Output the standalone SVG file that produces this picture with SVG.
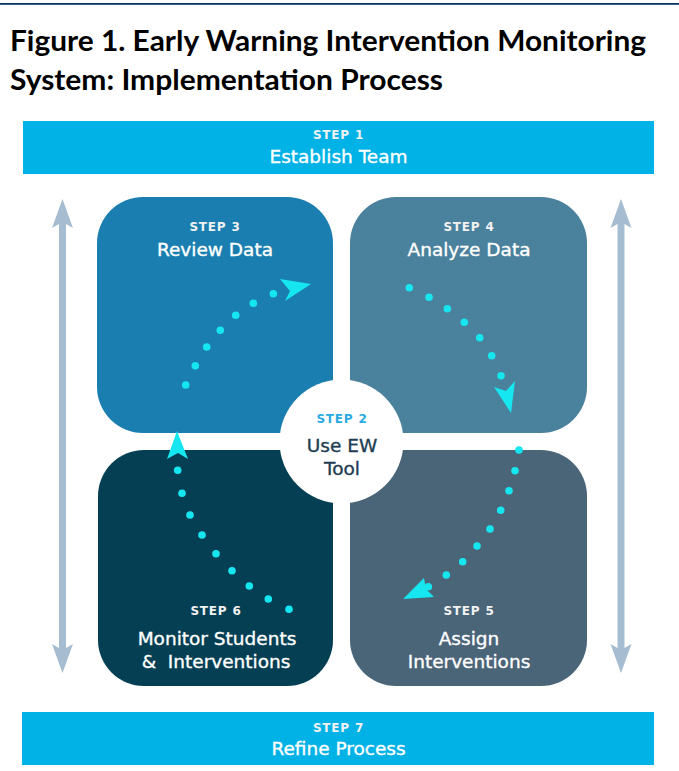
<svg xmlns="http://www.w3.org/2000/svg" width="679" height="771" viewBox="0 0 679 771">
<defs>
<style>
.title{font-family:Lato,"Liberation Sans",sans-serif;font-weight:bold;font-size:28px;fill:#000}
.step{font-family:"DejaVu Sans","Liberation Sans",sans-serif;font-weight:bold;font-size:12px;letter-spacing:0.8px;fill:#F2F2F2;text-anchor:middle}
.lbl{font-family:"DejaVu Sans","Liberation Sans",sans-serif;font-size:18.5px;fill:#FFFFFF;stroke:#FFFFFF;stroke-width:0.35px;text-anchor:middle}
.dark{fill:#1E3D52;stroke:#1E3D52}
.banner{fill:#00B2E5}
.dot{fill:#16E6F0}
.head{fill:#16E6F0}
.vline{stroke:#A6BDD1;stroke-width:7;fill:none}
.vhead{fill:#A6BDD1}
</style>
</defs>
<rect x="0" y="3" width="679" height="1.8" fill="#0B3462"/>
<text class="title" x="10" y="51" textLength="636" lengthAdjust="spacingAndGlyphs">Figure 1. Early Warning Intervention Monitoring</text>
<text class="title" x="10" y="90" textLength="433" lengthAdjust="spacingAndGlyphs">System: Implementation Process</text>

<g id="step1">
<rect class="banner" x="23" y="121" width="631" height="53"/>
<text class="step" x="338.5" y="139">STEP 1</text>
<text class="lbl" x="338.5" y="163">Establish Team</text>
</g>

<g id="step3">
<rect x="97" y="197" width="236" height="236" rx="46" fill="#1A7FB0"/>
<text class="step" x="215" y="231">STEP 3</text>
<text class="lbl" x="215" y="256">Review Data</text>
</g>

<g id="step4">
<rect x="350" y="197" width="237" height="236" rx="46" fill="#4A819C"/>
<text class="step" x="469" y="231">STEP 4</text>
<text class="lbl" x="469" y="256">Analyze Data</text>
</g>

<g id="step6">
<rect x="98" y="450" width="235" height="236" rx="46" fill="#043F53"/>
<text class="step" x="216" y="615">STEP 6</text>
<text class="lbl" x="217" y="645">Monitor Students</text>
<text class="lbl" x="216" y="668" style="white-space:pre">&amp;  Interventions</text>
</g>

<g id="step5">
<rect x="350" y="450" width="237" height="236" rx="46" fill="#4A6478"/>
<text class="step" x="469" y="615">STEP 5</text>
<text class="lbl" x="469" y="645">Assign</text>
<text class="lbl" x="469" y="668">Interventions</text>
</g>

<g id="step2">
<circle cx="341.5" cy="441.5" r="62" fill="#FFFFFF"/>
<text class="step" x="342" y="423" style="fill:#29ABE2">STEP 2</text>
<text class="lbl dark" x="342" y="452">Use EW</text>
<text class="lbl dark" x="342" y="475">Tool</text>
</g>

<g id="step7">
<rect class="banner" x="22" y="712" width="632" height="53"/>
<text class="step" x="338.5" y="732">STEP 7</text>
<text class="lbl" x="338.5" y="755">Refine Process</text>
</g>

<g id="connectors">
<g id="loop-3-4">
<circle class="dot" cx="185.7" cy="385" r="3.8"/>
<circle class="dot" cx="195.3" cy="365.7" r="3.8"/>
<circle class="dot" cx="206.7" cy="347" r="3.8"/>
<circle class="dot" cx="220.3" cy="330.3" r="3.8"/>
<circle class="dot" cx="235.7" cy="315.3" r="3.8"/>
<circle class="dot" cx="253.3" cy="303.3" r="3.8"/>
<circle class="dot" cx="273.3" cy="293.7" r="3.8"/>
<polygon class="head" points="311,284 280,279 290,291 285,301"/>
</g>
<g id="loop-4-5">
<circle class="dot" cx="409.3" cy="287.7" r="3.8"/>
<circle class="dot" cx="429" cy="297.3" r="3.8"/>
<circle class="dot" cx="447.3" cy="308.7" r="3.8"/>
<circle class="dot" cx="464.3" cy="322.3" r="3.8"/>
<circle class="dot" cx="479.7" cy="337.7" r="3.8"/>
<circle class="dot" cx="491.7" cy="355.7" r="3.8"/>
<circle class="dot" cx="501" cy="375.7" r="3.8"/>
<polygon class="head" points="511,413 494,387 506,391 515,381"/>
</g>
<g id="loop-5-6">
<circle class="dot" cx="519" cy="450" r="3.8"/>
<circle class="dot" cx="515" cy="470.7" r="3.8"/>
<circle class="dot" cx="509" cy="490.7" r="3.8"/>
<circle class="dot" cx="500.7" cy="510.3" r="3.8"/>
<circle class="dot" cx="490" cy="529" r="3.8"/>
<circle class="dot" cx="477" cy="546" r="3.8"/>
<circle class="dot" cx="462.7" cy="561.7" r="3.8"/>
<circle class="dot" cx="446.3" cy="575" r="3.8"/>
<circle class="dot" cx="428.3" cy="586.7" r="3.8"/>
<polygon class="head" points="403,599 424,578 426,589 434,597"/>
</g>
<g id="loop-6-3">
<circle class="dot" cx="289" cy="609.3" r="3.8"/>
<circle class="dot" cx="268.3" cy="599" r="3.8"/>
<circle class="dot" cx="249.3" cy="586" r="3.8"/>
<circle class="dot" cx="232" cy="570.7" r="3.8"/>
<circle class="dot" cx="216" cy="553.7" r="3.8"/>
<circle class="dot" cx="202" cy="535" r="3.8"/>
<circle class="dot" cx="190" cy="515" r="3.8"/>
<circle class="dot" cx="182" cy="493.3" r="3.8"/>
<circle class="dot" cx="177.7" cy="470.3" r="3.8"/>
<polygon class="head" points="177,431 167,459 178,453 188,459"/>
</g>
<g id="cycle-left">
<line class="vline" x1="62.5" y1="220" x2="62.5" y2="652"/>
<polygon class="vhead" points="62.5,199 73,228 62.5,222 52,228"/>
<polygon class="vhead" points="62.5,673 73,644 62.5,650 52,644"/>
</g>
<g id="cycle-right">
<line class="vline" x1="621" y1="220" x2="621" y2="652"/>
<polygon class="vhead" points="621,199 631.5,228 621,222 610.5,228"/>
<polygon class="vhead" points="621,673 631.5,644 621,650 610.5,644"/>
</g>
</g>
</svg>
